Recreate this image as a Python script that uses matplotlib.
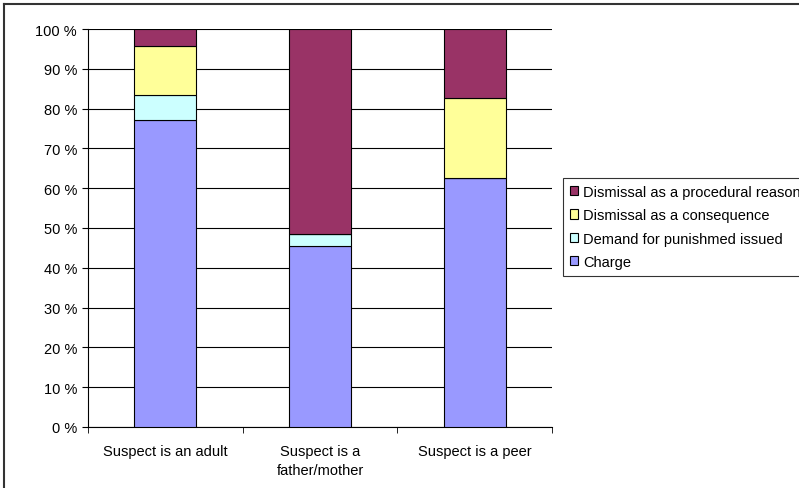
import numpy as np
import matplotlib.pyplot as plt
from matplotlib.lines import Line2D

plt.rcParams['font.family'] = ['Liberation Sans', 'DejaVu Sans']

categories = ["Suspect is an adult", "Suspect is a\nfather/mother", "Suspect is a peer"]
charge = [77.1, 45.5, 62.6]
demand = [6.3, 3.0, 0.0]
consequence = [12.3, 0.0, 20.1]
procedural = [4.3, 51.5, 17.3]

series = [
    ("Charge", charge, "#9999FF"),
    ("Demand for punishmed issued", demand, "#CCFFFF"),
    ("Dismissal as a consequence", consequence, "#FFFF99"),
    ("Dismissal as a procedural reason", procedural, "#993366"),
]

fs = 10.5
fig = plt.figure(figsize=(7.99, 4.89), dpi=100)
ax = fig.add_axes([88/799, 1-428/489, (552-88)/799, (428-30)/489])

x = np.arange(len(categories))
bottom = np.zeros(len(categories))
handles = []
for name, vals, col in series:
    vals = np.array(vals)
    b = ax.bar(x, vals, width=0.4, bottom=bottom, color=col, edgecolor='black',
               linewidth=0.8, label=name, zorder=3)
    handles.append(b)
    bottom += vals

ax.set_xlim(-0.5, 2.5)
ax.set_ylim(0, 100)
ax.set_yticks(np.arange(0, 101, 10))
ax.set_yticklabels([f"{v} %" for v in range(0, 101, 10)], fontsize=fs)
ax.yaxis.grid(True, color='black', linewidth=0.8, zorder=0)
ax.set_axisbelow(True)
ax.set_xticks(x)
ax.set_xticklabels(categories, fontsize=fs, linespacing=1.45)
ax.tick_params(axis='x', length=0, pad=12)
ax.set_xticks([-0.5, 0.5, 1.5, 2.5], minor=True)
ax.tick_params(axis='x', which='minor', length=4, direction='out')
ax.tick_params(axis='y', length=4, direction='out', pad=4)
for s in ['top', 'right']:
    ax.spines[s].set_visible(False)
ax.spines['left'].set_linewidth(0.8)
ax.spines['bottom'].set_linewidth(0.8)

# legend runs off the right edge, as in the original
leg = fig.legend(handles[::-1], [s[0] for s in series][::-1], loc='upper left',
                 bbox_to_anchor=(563/799, 1-179/489), borderaxespad=0,
                 fontsize=fs, frameon=True, fancybox=False, handlelength=0.6,
                 handleheight=0.6, handletextpad=0.35, labelspacing=0.65,
                 borderpad=0.45)
leg.get_frame().set_edgecolor('black')
leg.get_frame().set_linewidth(0.8)

fig.add_artist(Line2D([4/799, 4/799], [0, 1-5/489], transform=fig.transFigure,
                      color='#333333', linewidth=1.5))
fig.add_artist(Line2D([4/799, 1], [1-5/489, 1-5/489], transform=fig.transFigure,
                      color='#333333', linewidth=1.5))

fig.savefig("out.png", dpi=100)
